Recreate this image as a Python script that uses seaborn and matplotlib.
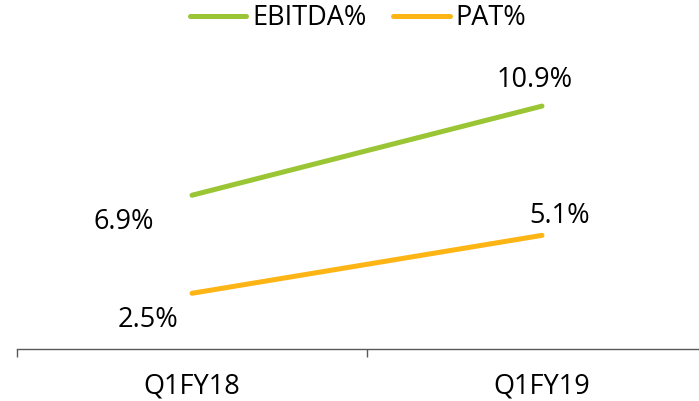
import numpy as np
import matplotlib
matplotlib.use("Agg")
import matplotlib.pyplot as plt
import pandas as pd
import seaborn as sns

# --- data ---
quarters = ["Q1FY18", "Q1FY19"]
ebitda_pct = [6.9, 10.9]
pat_pct = [2.5, 5.1]

series_names = ["EBITDA%", "PAT%"]
series_colors = ["#9AC534", "#FDB515"]

df = pd.DataFrame({
    "Quarter": quarters * 2,
    "Value": ebitda_pct + pat_pct,
    "Metric": [series_names[0]] * len(quarters) + [series_names[1]] * len(quarters),
})

sns.set_theme(style="white")
plt.rcParams["font.family"] = ["Open Sans", "DejaVu Sans"]

fig = plt.figure(figsize=(6.99, 4.01), dpi=100)
ax = fig.add_axes([17 / 699, 52 / 401, 700 / 699, 312 / 401])

sns.lineplot(data=df, x="Quarter", y="Value", hue="Metric",
             palette=dict(zip(series_names, series_colors)),
             linewidth=3.6, ax=ax, sort=False)

ax.set_xlim(-0.5, 1.5)
ax.set_ylim(0, 14)
ax.set_xlabel("")
ax.set_ylabel("")
ax.set_yticks([])

for s in ["left", "top", "right"]:
    ax.spines[s].set_visible(False)
ax.spines["bottom"].set_color("#595959")
ax.spines["bottom"].set_linewidth(1.0)

ax.set_xticks([0, 1])
ax.set_xticklabels(quarters, fontsize=19.5, color="black")
ax.tick_params(axis="x", which="major", length=0, pad=17)
ax.set_xticks([-0.5, 0.5, 1.5], minor=True)
ax.tick_params(axis="x", which="minor", bottom=True, direction="out",
               length=6, width=1.0, color="#595959")

# --- data labels ---
offsets = {
    series_names[0]: [(-49, -19), (-5, 19)],
    series_names[1]: [(-32, -19), (13, 14)],
}
for name, vals in zip(series_names, [ebitda_pct, pat_pct]):
    for i, v in enumerate(vals):
        ax.annotate(f"{v}%", (i, v), xytext=offsets[name][i],
                    textcoords="offset points", ha="center", va="center",
                    fontsize=19.5, color="black")

leg = ax.legend(loc="upper center", bbox_to_anchor=(358 / 699, 0.99),
                bbox_transform=fig.transFigure, ncol=2, frameon=False,
                fontsize=19.5, handlelength=2.1, handletextpad=0.2,
                columnspacing=1.0, borderaxespad=0.0, borderpad=0.0)
for t in leg.get_texts():
    t.set_color("black")

fig.savefig("out.png", dpi=100)
